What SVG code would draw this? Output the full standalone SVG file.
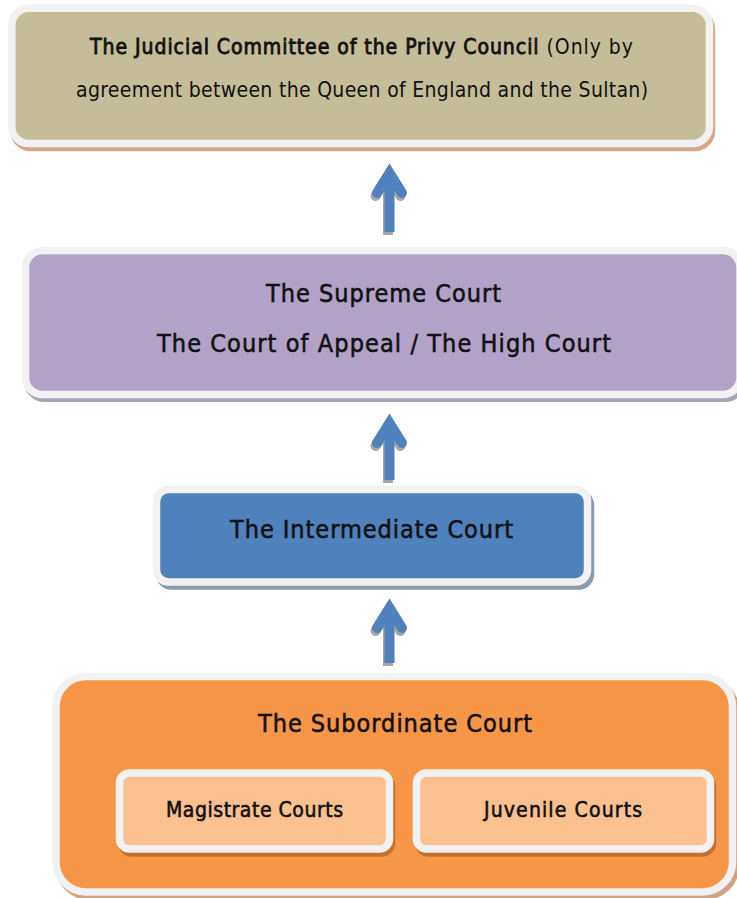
<svg xmlns="http://www.w3.org/2000/svg" width="737" height="898" viewBox="0 0 737 898">
  <style>
    .frame { stroke: #f2f2f2; stroke-width: 7.5; }
    .lbl { font-family: "DejaVu Sans Condensed", "DejaVu Sans", sans-serif; font-stretch: condensed; fill: #111; }
    .semi { stroke: #111; stroke-width: 0.55; }
    .strong { stroke: #111; stroke-width: 0.8; }
    .arr { fill: none; stroke: #4f81bd; stroke-width: 10; stroke-linecap: round; stroke-linejoin: miter; }
    .shaft { fill: none; stroke: #4f81bd; stroke-width: 10; }
    .arr-sh { fill: none; stroke: #a6a6a6; stroke-width: 10; stroke-linecap: round; }
    .shaft-sh { fill: none; stroke: #a6a6a6; stroke-width: 10; }
  </style>

  <rect width="737" height="898" fill="#ffffff"/>

  <!-- Privy Council -->
  <g id="privy-council">
    <rect x="13.8" y="12.3" width="697.7" height="135.2" rx="17" fill="#d5a688" stroke="#d5a688" stroke-width="7.5"/>
    <rect class="frame" x="11.8" y="8.3" width="697.7" height="135.2" rx="17" fill="#c4bd97"/>
    <text class="lbl" x="90" y="54" font-size="21" textLength="543" lengthAdjust="spacing"><tspan class="strong">The Judicial Committee of the Privy Council</tspan> (Only by</text>
    <text class="lbl" x="76" y="97" font-size="21" textLength="572" lengthAdjust="spacing">agreement between the Queen of England and the Sultan)</text>
  </g>

  <!-- Supreme Court -->
  <g id="supreme-court">
    <rect x="27.5" y="254.5" width="714.5" height="144" rx="17" fill="#a7a3b9" stroke="#a7a3b9" stroke-width="7"/>
    <rect class="frame" x="25.5" y="250.5" width="714.5" height="144" rx="17" fill="#b2a2c7" stroke-width="7"/>
    <text class="lbl semi" x="266" y="302" font-size="25" textLength="235" lengthAdjust="spacing">The Supreme Court</text>
    <text class="lbl semi" x="157" y="352" font-size="25" textLength="454" lengthAdjust="spacing">The Court of Appeal / The High Court</text>
  </g>

  <!-- Intermediate Court -->
  <g id="intermediate-court">
    <rect x="159.5" y="493.5" width="431" height="92.5" rx="12" fill="#8d99ae" stroke="#8d99ae" stroke-width="7.5"/>
    <rect class="frame" x="156.5" y="489.5" width="431" height="92.5" rx="12" fill="#4f81bd"/>
    <text class="lbl semi" x="230" y="538" font-size="25" textLength="283" lengthAdjust="spacing">The Intermediate Court</text>
  </g>

  <!-- Subordinate Court -->
  <g id="subordinate-court">
    <rect x="59" y="680.5" width="676.5" height="215.5" rx="30" fill="#cfa386" stroke="#cfa386" stroke-width="7.5"/>
    <rect class="frame" x="56" y="676.5" width="676.5" height="215.5" rx="30" fill="#f79646"/>
    <text class="lbl semi" x="258" y="732" font-size="25" textLength="274" lengthAdjust="spacing">The Subordinate Court</text>
  </g>

  <!-- Magistrate Courts -->
  <g id="magistrate-courts">
    <rect x="121.5" y="777" width="270" height="76" rx="10" fill="#c7702c" stroke="#c7702c" stroke-width="7.5"/>
    <rect class="frame" x="119.5" y="773" width="270" height="76" rx="10" fill="#fac08f"/>
    <text class="lbl semi" x="166" y="817" font-size="21" textLength="177" lengthAdjust="spacing">Magistrate Courts</text>
  </g>

  <!-- Juvenile Courts -->
  <g id="juvenile-courts">
    <rect x="418.5" y="777" width="294" height="76" rx="10" fill="#c7702c" stroke="#c7702c" stroke-width="7.5"/>
    <rect class="frame" x="416.5" y="773" width="294" height="76" rx="10" fill="#fac08f"/>
    <text class="lbl semi" x="484" y="817" font-size="21" textLength="158" lengthAdjust="spacing">Juvenile Courts</text>
  </g>

  <!-- Upward arrows between levels -->
  <g id="connectors">
    <g transform="translate(-1.5,3)">
      <path class="arr-sh" d="M377,193 L389.5,173 L402,193"/>
      <path class="shaft-sh" d="M389.5,180 V232"/>
      <path class="arr-sh" d="M377,443 L389.5,423 L402,443"/>
      <path class="shaft-sh" d="M389.5,430 V480"/>
      <path class="arr-sh" d="M377,628 L389.5,608 L402,628"/>
      <path class="shaft-sh" d="M389.5,615 V663"/>
    </g>
    <path class="shaft" d="M389.5,180 V232"/>
    <path class="arr" d="M377,193 L389.5,173 L402,193"/>
    <path class="shaft" d="M389.5,430 V480"/>
    <path class="arr" d="M377,443 L389.5,423 L402,443"/>
    <path class="shaft" d="M389.5,615 V663"/>
    <path class="arr" d="M377,628 L389.5,608 L402,628"/>
  </g>
</svg>
